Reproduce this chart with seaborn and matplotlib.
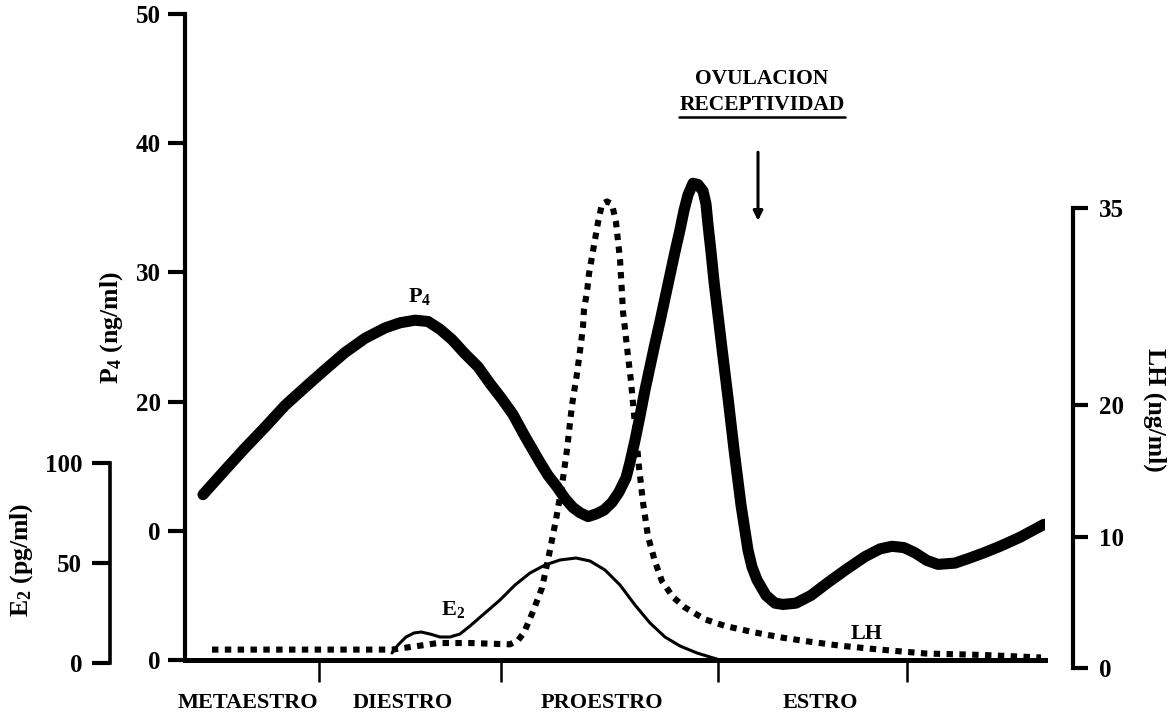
import matplotlib
matplotlib.use("Agg")
import matplotlib.pyplot as plt
import pandas as pd
import seaborn as sns

# ---- data (time axis in arbitrary units along the oestrous cycle) ----
p4_t = [1.8, 4.0, 6.0, 8.1, 10.0, 12.0, 13.9, 16.0, 18.0, 20.0, 21.5, 23.0, 24.3,
        25.5, 26.7, 28.0, 29.3, 30.5, 31.7, 32.8, 34.0, 35.5, 36.3, 37.2, 38.0,
        38.8, 39.5, 40.3, 41.1, 41.9, 42.7, 43.4, 44.1, 44.5, 45.0, 45.5, 46.0,
        46.5, 47.0, 47.5, 48.0, 48.5, 49.0, 49.5, 49.9, 50.3, 50.8, 51.3, 51.8,
        52.1, 52.3, 52.6, 52.9, 53.3, 53.7, 54.3, 54.9, 55.6, 56.3, 56.7, 57.2,
        58.1, 59.0, 59.8, 61.1, 62.6, 64.3, 66.1, 68.0, 69.5, 70.7, 71.9, 73.0,
        74.2, 75.3, 77.0, 78.5, 79.9, 81.5, 83.5, 85.9]
p4_ng = [12.8, 14.7, 16.4, 18.1, 19.7, 21.1, 22.4, 23.8, 24.9, 25.7, 26.1, 26.3, 26.2,
         25.6, 24.8, 23.7, 22.7, 21.4, 20.2, 19.0, 17.3, 15.3, 14.3, 13.4, 12.5,
         11.8, 11.4, 11.1, 11.3, 11.6, 12.2, 13.0, 14.1, 15.3, 17.0, 18.9, 20.9,
         22.7, 24.5, 26.2, 28.0, 29.8, 31.6, 33.3, 34.8, 36.0, 36.9, 36.8, 36.3,
         35.3, 33.7, 31.6, 29.3, 26.7, 24.1, 20.3, 16.3, 12.0, 8.5, 7.2, 6.2,
         5.0, 4.4, 4.3, 4.4, 5.0, 6.0, 7.0, 8.0, 8.6, 8.8, 8.7, 8.3,
         7.7, 7.4, 7.5, 7.9, 8.3, 8.8, 9.5, 10.5]

e2_t = [20.7, 21.3, 22.1, 22.9, 23.6, 24.5, 25.5, 26.5, 27.5, 28.5, 30.0, 31.5,
        33.0, 34.5, 36.0, 37.5, 39.1, 40.5, 42.0, 43.5, 45.0, 46.5, 48.0, 49.5,
        51.2, 52.5, 53.5]
e2_pg = [5.0, 9.0, 13.0, 15.0, 15.5, 14.5, 13.0, 13.0, 14.5, 18.5, 25.0, 31.5,
         39.0, 45.0, 49.0, 51.5, 52.5, 51.0, 46.5, 39.0, 29.0, 20.0, 13.0, 8.5,
         5.0, 3.0, 1.5]

lh_t = [2.7, 20.7, 23.5, 25.3, 28.5, 32.5, 33.3, 33.9, 34.8, 35.7, 36.4, 37.1,
        37.7, 38.2, 38.7, 39.2, 39.6, 39.8, 39.9, 40.2, 40.4, 40.7, 41.0, 41.3,
        41.7, 42.2, 42.7, 43.1, 43.3, 43.5, 43.6, 43.7, 43.8, 44.0, 44.2, 44.4,
        44.6, 45.0, 45.4, 45.8, 46.3, 47.0, 47.7, 48.8, 50.0, 52.0, 54.0, 57.0,
        59.8, 62.5, 65.5, 69.5, 74.1, 79.5, 85.6]
lh_ng = [1.4, 1.4, 1.7, 1.9, 1.9, 1.8, 2.1, 2.7, 4.3, 6.1, 8.6, 11.3,
         13.9, 16.6, 20.0, 22.4, 24.7, 26.0, 27.3, 28.6, 30.0, 31.3, 32.6, 33.9,
         35.3, 35.5, 35.3, 33.9, 32.5, 31.1, 29.8, 28.5, 27.1, 25.8, 24.4, 23.1,
         21.8, 18.5, 15.3, 12.6, 10.0, 8.1, 6.6, 5.4, 4.6, 3.7, 3.2, 2.7,
         2.3, 2.0, 1.7, 1.4, 1.1, 1.0, 0.8]

phase_names = ["METAESTRO", "DIESTRO", "PROESTRO", "ESTRO"]
phase_centers = [6.3, 21.8, 41.7, 63.5]
phase_bounds = [13.4, 31.6, 53.3, 72.2]

p4_ticks = [0, 10, 20, 30, 40, 50]
p4_tick_labels = ["0", "0", "20", "30", "40", "50"]
e2_ticks = [0, 50, 100]
lh_ticks = [0, 10, 20, 35]

p4_df = pd.DataFrame({"t": p4_t, "P4": p4_ng})
e2_df = pd.DataFrame({"t": e2_t, "E2": e2_pg})
lh_df = pd.DataFrame({"t": lh_t, "LH": lh_ng})

# ---- style ----
sns.set_theme(style="ticks")
plt.rcParams["font.family"] = ["Liberation Serif", "DejaVu Serif"]
plt.rcParams["font.weight"] = "bold"
plt.rcParams["mathtext.fontset"] = "custom"
plt.rcParams["mathtext.rm"] = "Liberation Serif:bold"
plt.rcParams["mathtext.it"] = "Liberation Serif:bold"
plt.rcParams["mathtext.bf"] = "Liberation Serif:bold"
for key in ("axes.edgecolor", "text.color", "xtick.color", "ytick.color",
            "axes.labelcolor"):
    plt.rcParams[key] = "black"

W, H = 1172, 715
fig = plt.figure(figsize=(W / 100, H / 100), dpi=100)
fig.patch.set_facecolor("white")


def frame(left, right, top, bottom):
    return [left / W, 1 - bottom / H, (right - left) / W, (bottom - top) / H]


TICK_FS = 18
LAB_FS = 16
TITLE_FS = 18.5

# ---- progesterone axis (main) ----
ax = fig.add_axes(frame(185, 1045, 14, 660))
ax.set_facecolor("none")
sns.lineplot(data=p4_df, x="t", y="P4", ax=ax, color="black", linewidth=8,
             sort=False, estimator=None)
ax.lines[-1].set_solid_joinstyle("round")
ax.set_xlim(0, 86)
ax.set_ylim(0, 50)
for s in ("top", "right"):
    ax.spines[s].set_visible(False)
ax.spines["left"].set_linewidth(3)
ax.spines["bottom"].set_linewidth(3.6)
ax.set_yticks(p4_ticks)
ax.set_yticklabels(p4_tick_labels, fontsize=TICK_FS, fontweight="bold")
ax.tick_params(axis="y", direction="out", length=12.5, width=3, pad=5)
ax.set_xticks(phase_bounds)
ax.set_xticklabels([])
ax.tick_params(axis="x", direction="out", length=16, width=1.8)
ax.set_xlabel("")
ax.set_ylabel("")

trans = ax.get_xaxis_transform()
for name, c in zip(phase_names, phase_centers):
    ax.text(c, -0.066, name, transform=trans, ha="center", va="center",
            fontsize=16, fontweight="bold")

# ---- oestradiol axis ----
ax_e2 = fig.add_axes(frame(110, 1045, 463, 663))
ax_e2.set_facecolor("none")
sns.lineplot(data=e2_df, x="t", y="E2", ax=ax_e2, color="black", linewidth=2.2,
             sort=False, estimator=None)
ax_e2.set_xlim(-7.5, 86)
ax_e2.set_ylim(0, 100)
for s in ("top", "right", "bottom"):
    ax_e2.spines[s].set_visible(False)
ax_e2.spines["left"].set_linewidth(2.6)
ax_e2.set_xticks([])
ax_e2.set_yticks(e2_ticks)
ax_e2.set_yticklabels([str(v) for v in e2_ticks], fontsize=TICK_FS, fontweight="bold")
ax_e2.tick_params(axis="y", direction="out", length=13, width=3, pad=7)
ax_e2.set_xlabel("")
ax_e2.set_ylabel("")

# ---- LH axis ----
ax_lh = fig.add_axes(frame(185, 1073, 208, 668))
ax_lh.set_facecolor("none")
sns.lineplot(data=lh_df, x="t", y="LH", ax=ax_lh, color="black", linewidth=4.4,
             linestyle=(0, (1.05, 1.05)), sort=False, estimator=None)
ax_lh.lines[-1].set_dash_capstyle("butt")
ax_lh.set_xlim(0, 88.8)
ax_lh.set_ylim(0, 35)
for s in ("top", "left", "bottom"):
    ax_lh.spines[s].set_visible(False)
ax_lh.spines["right"].set_linewidth(3)
ax_lh.yaxis.tick_right()
ax_lh.set_xticks([])
ax_lh.set_yticks(lh_ticks)
ax_lh.set_yticklabels([str(v) for v in lh_ticks], fontsize=TICK_FS, fontweight="bold")
ax_lh.tick_params(axis="y", direction="out", length=10.5, width=3, pad=8)
ax_lh.set_xlabel("")
ax_lh.set_ylabel("")
for ln in ax_lh.lines:
    ln.set_clip_on(False)

# ---- curve labels ----
ax.text(23.5, 28.1, r"P$_{4}$", ha="center", va="center", fontsize=LAB_FS)
ax.text(26.8, 3.9, r"E$_{2}$", ha="center", va="center", fontsize=LAB_FS)
ax.text(68.2, 2.0, "LH", ha="center", va="center", fontsize=LAB_FS)

# ---- ovulation annotation ----
ax.text(57.7, 45.0, "OVULACION", ha="center", va="center", fontsize=15.5)
rec = ax.text(57.7, 42.95, "RECEPTIVIDAD", ha="center", va="center", fontsize=15.5)
ax.annotate("", xy=(57.3, 34.0), xytext=(57.3, 39.3),
            arrowprops=dict(arrowstyle="-|>", lw=2.2, color="black",
                            mutation_scale=14, shrinkA=0, shrinkB=0))

# ---- axis titles ----
fig.text(112 / W, 1 - 328 / H, r"P$_{4}$ (ng/ml)", rotation=90, ha="center",
         va="center", fontsize=TITLE_FS)
fig.text(22 / W, 1 - 560 / H, r"E$_{2}$ (pg/ml)", rotation=90, ha="center",
         va="center", fontsize=TITLE_FS)
fig.text(1155 / W, 1 - 410 / H, "LH (ng/ml)", rotation=-90, ha="center",
         va="center", fontsize=TITLE_FS)

# underline under RECEPTIVIDAD
fig.canvas.draw()
bb = rec.get_window_extent(renderer=fig.canvas.get_renderer())
inv = fig.transFigure.inverted()
(x0, y0), (x1, _) = inv.transform([(bb.x0, bb.y0), (bb.x1, bb.y1)])
fig.add_artist(plt.Line2D([x0, x1], [y0 - 2 / H, y0 - 2 / H], color="black",
                          linewidth=1.8, transform=fig.transFigure))

fig.savefig("out.png", dpi=100, facecolor="white")
